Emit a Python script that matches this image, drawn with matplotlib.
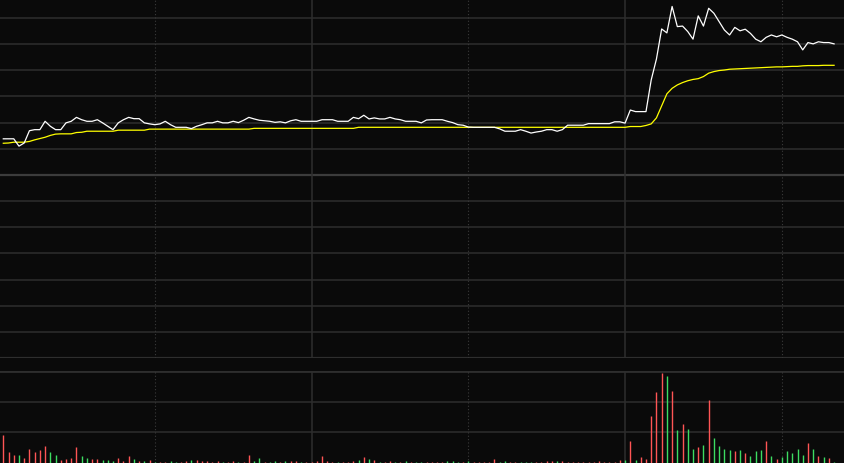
import matplotlib
matplotlib.use("Agg")
import matplotlib.pyplot as plt
import numpy as np

# intraday minute data, price as % change vs previous close
price = [1.38, 1.38, 1.38, 1.10, 1.22, 1.69, 1.73, 1.73, 2.05, 1.86,
         1.73, 1.73, 1.99, 2.05, 2.20, 2.11, 2.05, 2.05, 2.11, 1.99,
         1.86, 1.73, 1.99, 2.11, 2.20, 2.15, 2.15, 1.99, 1.95, 1.92,
         1.95, 2.05, 1.92, 1.82, 1.82, 1.82, 1.77, 1.86, 1.92, 1.99,
         1.99, 2.05, 1.99, 1.99, 2.05, 2.00, 2.09, 2.20, 2.14, 2.09,
         2.07, 2.05, 2.01, 2.03, 1.99, 2.07, 2.11, 2.05, 2.05, 2.05,
         2.05, 2.11, 2.11, 2.11, 2.05, 2.05, 2.05, 2.20, 2.15, 2.28,
         2.14, 2.18, 2.14, 2.14, 2.20, 2.14, 2.11, 2.05, 2.05, 2.05,
         1.99, 2.10, 2.11, 2.11, 2.11, 2.05, 2.00, 1.92, 1.90, 1.83,
         1.82, 1.82, 1.82, 1.82, 1.82, 1.76, 1.67, 1.67, 1.67, 1.73,
         1.67, 1.60, 1.64, 1.67, 1.73, 1.73, 1.67, 1.73, 1.90, 1.90,
         1.90, 1.90, 1.96, 1.96, 1.96, 1.96, 1.96, 2.03, 2.03, 1.98,
         2.48, 2.42, 2.42, 2.42, 3.63, 4.43, 5.58, 5.43, 6.44, 5.67,
         5.69, 5.48, 5.19, 6.08, 5.69, 6.37, 6.18, 5.86, 5.54, 5.35,
         5.64, 5.51, 5.57, 5.41, 5.19, 5.09, 5.26, 5.35, 5.28, 5.35,
         5.26, 5.19, 5.09, 4.78, 5.06, 5.01, 5.09, 5.06, 5.06, 5.01]

avg_price = [1.21, 1.22, 1.25, 1.25, 1.25, 1.28, 1.34, 1.39, 1.44, 1.51,
             1.56, 1.57, 1.57, 1.57, 1.62, 1.63] + [1.67] * 6 + [1.71] * 6 \
            + [1.75] * 20 + [1.78] * 20 + [1.82] * 52 + \
            [1.85, 1.85, 1.85, 1.89, 1.95, 2.18, 2.64, 3.10, 3.31, 3.44,
             3.53, 3.60, 3.65, 3.68, 3.76, 3.89, 3.95, 3.99, 4.01, 4.04,
             4.05, 4.06, 4.07, 4.08, 4.09, 4.10, 4.11, 4.12, 4.13, 4.13,
             4.14, 4.15, 4.15, 4.17, 4.18, 4.18, 4.18, 4.19, 4.19, 4.19]

volume = [28, 11, 8, 8, 5, 14, 11, 13, 17, 11,
          8, 3, 4, 5, 16, 7, 5, 4, 4, 3,
          3, 2, 5, 2, 7, 4, 2, 2, 3, 1,
          1, 1, 2, 1, 1, 2, 3, 3, 2, 2,
          1, 2, 1, 1, 2, 1, 1, 8, 2, 5,
          1, 1, 2, 1, 2, 2, 2, 1, 1, 1,
          2, 7, 2, 1, 1, 1, 1, 2, 3, 6,
          4, 3, 1, 1, 2, 1, 1, 2, 1, 1,
          1, 1, 1, 1, 1, 2, 2, 1, 1, 2,
          1, 1, 1, 1, 4, 1, 2, 1, 1, 1,
          1, 1, 1, 1, 2, 2, 2, 2, 1, 1,
          1, 1, 1, 1, 2, 1, 1, 1, 3, 3,
          22, 3, 6, 4, 47, 71, 90, 87, 72, 33,
          39, 34, 14, 16, 18, 63, 25, 17, 14, 13,
          12, 13, 10, 7, 12, 13, 22, 7, 4, 6,
          12, 10, 14, 8, 20, 14, 7, 6, 5, 1]

# 1 = up (red), 0 = down (green)
vol_up = [1, 1, 1, 0, 1, 1, 1, 1, 1, 0,
          0, 1, 1, 1, 1, 0, 0, 1, 1, 0,
          0, 0, 1, 1, 1, 0, 1, 0, 1, 0,
          1, 1, 0, 0, 1, 1, 0, 1, 1, 1,
          1, 1, 0, 1, 1, 0, 1, 1, 0, 0,
          1, 0, 0, 1, 0, 1, 1, 0, 1, 1,
          1, 1, 1, 1, 0, 1, 1, 1, 0, 1,
          0, 1, 0, 1, 1, 0, 1, 0, 1, 0,
          0, 1, 1, 1, 1, 0, 0, 0, 1, 0,
          1, 1, 1, 1, 1, 0, 0, 1, 1, 0,
          0, 0, 1, 1, 1, 1, 0, 1, 1, 1,
          1, 1, 1, 1, 1, 1, 1, 1, 1, 0,
          1, 0, 1, 1, 1, 1, 1, 0, 1, 0,
          1, 0, 0, 1, 0, 1, 0, 0, 0, 0,
          1, 0, 1, 0, 0, 0, 1, 0, 1, 0,
          0, 0, 0, 0, 1, 0, 1, 0, 1, 0]

minutes = np.arange(len(price))
half_hours = [29, 59, 89, 119, 149]

bg = '#0a0a0a'
grid_col = '#2e2e2e'
red = '#ff5555'
green = '#3ddc61'

fig = plt.figure(figsize=(8.45, 4.63), dpi=100, facecolor=bg)
ax = fig.add_axes([0, (463 - 358) / 463, 1, 358 / 463])
axv = fig.add_axes([0, 0, 1, 92 / 463])

xmin, xmax = -0.632, 161.09

# price panel
ax.set_facecolor(bg)
ax.set_xlim(xmin, xmax)
ax.set_ylim(-7, 175 / 26.17)
for lvl in range(-6, 7):
    if lvl == 0:
        ax.axhline(lvl, color='#3c3c3c', lw=1.6, zorder=1)
    else:
        ax.axhline(lvl, color=grid_col, lw=1.1, zorder=1)
ax.axhline(-7, color=grid_col, lw=1.6, zorder=1)
for i, m in enumerate(half_hours):
    if i % 2 == 1:
        ax.axvline(m, color=grid_col, lw=1.1, zorder=1)
    else:
        ax.axvline(m, color='#3a3a3a', lw=0.8, linestyle=(0, (1, 2)), zorder=1)
ax.plot(minutes, avg_price, color='#ffff00', lw=0.9, zorder=3)
ax.plot(minutes, price, color='#ffffff', lw=0.9, zorder=4)
ax.set_xticks([])
ax.set_yticks([])
for s in ax.spines.values():
    s.set_visible(False)

# volume panel
axv.set_facecolor(bg)
axv.set_xlim(xmin, xmax)
axv.set_ylim(0, 92)
for lvl in [92 / 3, 2 * 92 / 3]:
    axv.axhline(lvl, color=grid_col, lw=1.1, zorder=1)
axv.axhline(92, color=grid_col, lw=2, zorder=1)
for i, m in enumerate(half_hours):
    if i % 2 == 1:
        axv.axvline(m, color=grid_col, lw=1.1, zorder=1)
    else:
        axv.axvline(m, color='#3a3a3a', lw=0.8, linestyle=(0, (1, 2)), zorder=1)
cols = [red if u else green for u in vol_up]
axv.vlines(minutes, 0, volume, colors=cols, lw=1.0, zorder=3)
axv.set_xticks([])
axv.set_yticks([])
for s in axv.spines.values():
    s.set_visible(False)

fig.savefig('out.png', dpi=100, facecolor=bg)
